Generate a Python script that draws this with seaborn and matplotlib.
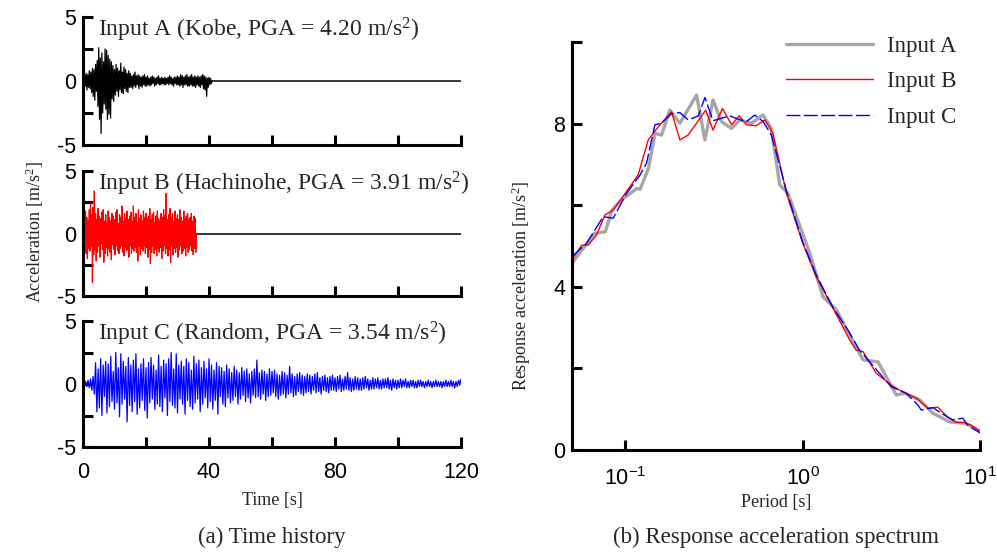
import numpy as np
import pandas as pd
import matplotlib
matplotlib.use("Agg")
import matplotlib.pyplot as plt
import seaborn as sns

# ---------------- data ----------------
dt_a = 0.25
acc_a = [0.1, -0.3, 0.5, -0.4, 0.6, -0.7, 0.5, -0.5, 0.8, -0.6, 0.7, -0.9,
         1.0, -1.2, 0.9, -1.5, 1.3, -0.8, 1.6, -2.0,
         2.6, -3.0, 1.8, -4.1, 2.2, -2.5, 1.5, -1.8,
         2.5, -2.2, 2.4, -3.0, 2.0, -2.6, 1.7, -2.9, 1.5, -1.4,
         1.2, -1.6, 0.9, -1.1, 1.3, -0.8, 1.0, -1.2, 0.8, -0.7,
         1.4, -0.9, 0.7, -1.0, 1.1, -0.6, 0.9, -0.8, 0.6, -0.9, 0.8, -0.5,
         0.6, -0.5, 0.4, -0.6, 0.5, -0.4, 0.7, -0.5, 0.4, -0.3, 0.5, -0.6, 0.4, -0.4, 0.3, -0.5, 0.4, -0.3, 0.5, -0.4,
         0.3, -0.4, 0.4, -0.3, 0.2, -0.4, 0.3, -0.3, 0.4, -0.2, 0.3, -0.4, 0.2, -0.3, 0.3, -0.2, 0.4, -0.3, 0.2, -0.3,
         0.3, -0.2, 0.2, -0.3, 0.3, -0.3, 0.2, -0.2, 0.3, -0.3, 0.4, -0.2, 0.3, -0.3, 0.2, -0.4, 0.3, -0.2, 0.3, -0.3,
         0.4, -0.3, 0.3, -0.4, 0.5, -0.3, 0.4, -0.5, 0.3, -0.3, 0.4, -0.3, 0.5, -0.4, 0.3, -0.4, 0.4, -0.3, 0.5, -0.4,
         0.3, -0.4, 0.4, -0.5, 0.3, -0.3, 0.4, -0.4, 0.3, -0.5, 0.4, -0.3, 0.5, -0.6, 0.4, -0.7, 0.3, -1.2, 0.2, -0.5,
         0.3, -0.3, 0.2, -0.2, 0.0]

dt_b = 0.2
acc_b = [0.8, -1.5, 1.2, -0.9, 1.8, -1.6, 1.3, -2.0, 1.0, -1.2,
         1.9, -1.4, 2.4, -1.0, 1.5, -3.9, 2.1, -1.7, 3.4, -1.3,
         1.6, -2.2, 1.1, -1.5, 2.0, -1.0, 1.4, -1.9, 1.2, -0.8,
         1.7, -1.3, 1.9, -2.3, 1.0, -1.6, 1.5, -1.1, 0.9, -1.8,
         1.8, -1.2, 1.3, -1.5, 1.0, -2.1, 1.6, -0.9, 1.4, -1.3,
         1.1, -1.7, 1.7, -1.0, 1.9, -1.4, 0.8, -1.6, 1.5, -1.2,
         1.3, -1.0, 2.2, -1.5, 1.0, -1.8, 1.6, -1.1, 1.2, -1.4,
         1.8, -1.3, 1.1, -1.9, 1.4, -1.0, 1.7, -1.6, 1.0, -1.2,
         2.2, -1.4, 1.3, -1.1, 1.6, -1.5, 0.9, -2.2, 1.9, -1.0,
         1.2, -1.7, 1.5, -1.2, 1.0, -1.4, 1.8, -1.0, 1.3, -1.6,
         1.6, -1.1, 1.2, -1.9, 1.4, -1.3, 2.0, -2.4, 1.1, -1.5,
         1.5, -1.0, 1.7, -1.6, 0.9, -1.3, 1.4, -1.8, 1.8, -1.2,
         1.2, -1.5, 1.0, -1.1, 1.6, -2.0, 1.3, -1.4, 1.9, -1.0,
         1.4, -1.6, 3.2, -1.2, 1.1, -1.8, 1.5, -1.3, 2.0, -2.3,
         1.3, -1.0, 1.6, -1.7, 1.0, -1.2, 1.8, -1.5, 1.2, -1.1,
         1.5, -1.9, 1.1, -1.3, 1.9, -1.0, 1.3, -1.6, 1.0, -1.4,
         1.8, -1.2, 1.2, -1.8, 1.4, -1.1, 1.6, -1.5, 1.1, -1.3,
         1.3, -1.0, 1.6, -1.4, 1.0, -1.7, 1.4, -1.2, 1.2, -1.5, 0.0]

dt_c = 0.4
acc_c = [0.1, -0.1, 0.2, -0.2, 0.3, -0.3, 0.4, -0.5, 0.6, -0.8,
         1.7, -2.2, 1.2, -1.9, 2.0, -2.5, 1.5, -1.0, 1.8, -2.3,
         1.6, -1.8, 2.2, -1.4, 1.0, -2.0, 2.5, -1.5, 1.3, -2.6,
         2.4, -1.6, 1.8, -1.2, 1.4, -3.0, 2.1, -1.7, 1.5, -2.2,
         1.9, -1.4, 2.4, -2.4, 1.2, -1.9, 1.6, -1.3, 2.0, -2.1,
         1.3, -2.7, 1.7, -1.5, 2.1, -1.2, 1.5, -2.0, 1.1, -1.6,
         2.3, -1.8, 1.4, -2.2, 1.9, -1.1, 1.6, -2.5, 2.0, -1.4,
         2.5, -1.7, 1.2, -1.9, 2.4, -2.3, 1.5, -1.2, 1.8, -1.6,
         1.4, -2.4, 2.0, -1.3, 1.7, -1.8, 1.1, -2.0, 2.2, -1.5,
         1.6, -1.2, 1.9, -2.2, 1.3, -1.6, 1.8, -1.1, 1.2, -1.9,
         2.0, -1.4, 1.5, -2.0, 1.1, -1.3, 1.7, -2.4, 1.4, -1.0,
         1.3, -1.6, 1.0, -1.8, 1.5, -1.1, 1.2, -1.5, 0.9, -1.3,
         1.4, -1.0, 1.1, -1.6, 0.9, -1.2, 1.3, -0.9, 1.0, -1.4,
         1.2, -1.1, 0.8, -1.5, 1.0, -0.9, 1.2, -1.1, 1.9, -1.0,
         0.9, -1.2, 1.1, -0.8, 1.0, -1.3, 0.8, -1.0, 1.2, -0.9,
         1.0, -0.7, 1.1, -1.0, 0.8, -1.2, 0.7, -0.9, 1.0, -0.8,
         0.9, -1.1, 0.7, -0.8, 1.4, -0.7, 0.8, -1.0, 0.6, -0.9,
         0.8, -0.6, 0.9, -0.8, 0.7, -0.9, 0.6, -0.7, 0.8, -0.6,
         0.7, -0.8, 0.6, -0.5, 0.8, -0.7, 0.9, -0.6, 0.5, -0.8,
         0.6, -0.5, 0.7, -0.6, 0.5, -0.7, 0.6, -0.5, 0.7, -0.5,
         0.5, -0.6, 0.6, -0.4, 0.7, -0.6, 0.4, -0.5, 0.6, -0.4,
         0.9, -0.5, 0.5, -0.6, 0.4, -0.5, 0.6, -0.4, 0.5, -0.5,
         0.4, -0.5, 0.5, -0.4, 0.6, -0.3, 0.4, -0.5, 0.3, -0.4,
         0.5, -0.4, 0.4, -0.3, 0.5, -0.4, 0.3, -0.4, 0.4, -0.3,
         0.4, -0.3, 0.5, -0.4, 0.3, -0.5, 0.4, -0.3, 0.3, -0.4,
         0.3, -0.3, 0.4, -0.3, 0.3, -0.2, 0.4, -0.3, 0.2, -0.3,
         0.3, -0.2, 0.3, -0.3, 0.2, -0.3, 0.3, -0.2, 0.3, -0.2,
         0.2, -0.3, 0.2, -0.2, 0.3, -0.2, 0.2, -0.3, 0.2, -0.2,
         0.3, -0.2, 0.2, -0.2, 0.2, -0.3, 0.2, -0.2, 0.3, -0.2,
         0.2, -0.2, 0.3, -0.2, 0.2, -0.3, 0.2, -0.2, 0.3, -0.1,
         0.4]

time_labels = ["Input A (Kobe, PGA = 4.20 m/s$^{2}$)",
               "Input B (Hachinohe, PGA = 3.91 m/s$^{2}$)",
               "Input C (Random, PGA = 3.54 m/s$^{2}$)"]

period_a = [0.050, 0.067, 0.077, 0.084, 0.095, 0.116, 0.121, 0.135, 0.147, 0.160, 0.178, 0.203,
            0.252, 0.281, 0.312, 0.348, 0.397, 0.442, 0.514, 0.598, 0.666, 0.742, 0.826, 1.00,
            1.095, 1.30, 1.55, 1.84, 2.19, 2.66, 3.37, 3.75, 4.56, 5.43, 6.74, 8.35, 10.0]
sa_a = [4.58, 5.31, 5.35, 5.88, 6.13, 6.41, 6.39, 6.90, 7.76, 7.72, 8.33, 8.01,
        8.70, 7.60, 8.58, 8.05, 7.88, 8.09, 8.01, 8.21, 7.88, 6.50, 6.29, 5.30,
        4.83, 3.76, 3.43, 2.82, 2.21, 2.16, 1.35, 1.39, 1.23, 0.90, 0.69, 0.65, 0.45]

period_b = [0.050, 0.0567, 0.0617, 0.0687, 0.0767, 0.0853, 0.108, 0.118, 0.1345, 0.153, 0.182,
            0.203, 0.226, 0.284, 0.312, 0.353, 0.397, 0.438, 0.482, 0.548, 0.611, 0.680, 0.81,
            1.00, 1.19, 1.48, 1.84, 2.00, 2.19, 2.60, 3.16, 3.52, 4.38, 5.08, 5.78, 6.58, 7.33,
            8.17, 8.92, 10.0]
sa_b = [4.66, 5.02, 5.02, 5.27, 5.76, 5.88, 6.50, 6.74, 7.60, 7.92, 8.29,
        7.60, 7.72, 8.33, 7.84, 8.37, 7.97, 8.19, 7.97, 7.95, 8.09, 7.76, 6.29,
        5.07, 4.25, 3.48, 2.70, 2.45, 2.41, 1.88, 1.59, 1.47, 1.27, 1.02, 1.05, 0.80, 0.68,
        0.67, 0.61, 0.47]

period_c = [0.050, 0.0605, 0.075, 0.0853, 0.1016, 0.121, 0.1317, 0.1467, 0.160, 0.182, 0.203,
            0.226, 0.258, 0.281, 0.312, 0.348, 0.388, 0.432, 0.482, 0.537, 0.598, 0.666, 0.81,
            1.00, 1.19, 1.48, 1.84, 2.09, 2.29, 2.71, 3.16, 3.84, 4.47, 4.66, 5.43, 6.05, 7.01,
            7.98, 8.51, 10.0]
sa_c = [4.74, 5.07, 5.72, 5.68, 6.29, 6.74, 7.03, 7.97, 8.01, 8.24, 8.27,
        8.09, 8.19, 8.64, 8.07, 8.13, 8.19, 8.11, 8.05, 8.21, 8.05, 7.72, 6.35,
        5.10, 4.30, 3.50, 2.87, 2.45, 2.25, 1.88, 1.55, 1.39, 1.10, 0.98, 1.04, 0.90, 0.74,
        0.78, 0.61, 0.42]

spectrum_labels = ["Input A", "Input B", "Input C"]

# ---------------- style ----------------
sns.set_style("ticks")
plt.rcParams["font.family"] = ["Liberation Sans", "DejaVu Sans"]
plt.rcParams["axes.unicode_minus"] = False
plt.rcParams["mathtext.default"] = "regular"
SERIF = ["Liberation Serif", "DejaVu Serif"]

fig = plt.figure(figsize=(9.97, 5.52), dpi=100)
W, H = 997.0, 552.0


def fax(x0, y0, x1, y1):
    return fig.add_axes([x0 / W, 1 - y1 / H, (x1 - x0) / W, (y1 - y0) / H])


def style_axes(ax):
    for s in ["top", "right"]:
        ax.spines[s].set_visible(False)
    for s in ["left", "bottom"]:
        ax.spines[s].set_linewidth(2.2)
        ax.spines[s].set_color("black")
    ax.tick_params(which="both", direction="in", length=7, width=2.2,
                   labelsize=15.5, colors="black", pad=5)
    ax.set_facecolor("white")


# ---------------- time histories ----------------
rects = [(83, 17, 461, 145), (83, 171, 461, 296), (83, 321, 461, 447)]
series = [(acc_a, dt_a, "black"), (acc_b, dt_b, "red"), (acc_c, dt_c, "blue")]
for i, ((vals, dt, col), r, lab) in enumerate(zip(series, rects, time_labels)):
    ax = fax(*r)
    t = np.arange(len(vals)) * dt
    df = pd.DataFrame({"t": t, "acc": vals})
    sns.lineplot(data=df, x="t", y="acc", ax=ax, color=col, lw=0.9,
                 estimator=None, sort=False, zorder=3)
    ax.set_xlim(0, 120)
    ax.set_ylim(-5, 5)
    if t[-1] < 120:
        ax.plot([t[-1], 120], [0, 0], color="black", lw=1.1, zorder=2)
    ax.set_yticks([-5, 0, 5])
    ax.set_yticks([-2.5, 2.5], minor=True)
    ax.set_xticks([0, 40, 80, 120])
    ax.set_xticks([20, 60, 100], minor=True)
    ax.set_xlabel("")
    ax.set_ylabel("")
    style_axes(ax)
    ax.tick_params(axis="x", pad=11)
    if i < 2:
        ax.set_xticklabels([])
    ax.text(0.04, 1.01, lab, transform=ax.transAxes, ha="left", va="top",
            family=SERIF, fontsize=17)
    for sp in ax.spines.values():
        sp.set_zorder(5)
    ax.patch.set_alpha(0)

fig.text(35 / W, 1 - 232 / H, "Acceleration [m/s$^{2}$]", rotation=90,
         ha="center", va="center", family=SERIF, fontsize=13)
fig.text(272 / W, 1 - 500 / H, "Time [s]", ha="center", va="center",
         family=SERIF, fontsize=13)
fig.text(272 / W, 1 - 537 / H, "(a) Time history", ha="center", va="center",
         family=SERIF, fontsize=16.5)

# ---------------- response spectrum ----------------
ax2 = fax(572, 42, 980, 450)
spec = [(period_a, sa_a, "#a6a6a6", 2.4, "-"),
        (period_b, sa_b, "#ff0000", 1.0, "-"),
        (period_c, sa_c, "#0000ff", 1.0, (0, (10, 2.5)))]
for (p, s, col, lw, ls), lab in zip(spec, spectrum_labels):
    df = pd.DataFrame({"T": p, "Sa": s})
    sns.lineplot(data=df, x="T", y="Sa", ax=ax2, color=col, lw=lw,
                 linestyle=ls, estimator=None, sort=False, label=lab)
ax2.set_xscale("log")
ax2.set_xlim(0.05, 10)
ax2.set_ylim(0, 10)
ax2.set_yticks([0, 4, 8])
ax2.set_yticks([2, 6, 10], minor=True)
ax2.set_xticks([0.1, 1, 10])
ax2.xaxis.set_minor_locator(matplotlib.ticker.NullLocator())
ax2.set_xlabel("")
ax2.set_ylabel("")
style_axes(ax2)
ax2.tick_params(axis="x", pad=12)
for sp in ax2.spines.values():
    sp.set_zorder(5)
h, l = ax2.get_legend_handles_labels()
ax2.legend(h, l, loc="upper left", bbox_to_anchor=(786 / W, 1 - 36 / H),
           bbox_transform=fig.transFigure, frameon=False,
           prop={"family": SERIF, "size": 16.5}, handlelength=3.8,
           handletextpad=0.6, labelspacing=0.62, borderpad=0, borderaxespad=0)

fig.text(521 / W, 1 - 286 / H, "Response acceleration [m/s$^{2}$]", rotation=90,
         ha="center", va="center", family=SERIF, fontsize=13)
fig.text(776 / W, 1 - 502 / H, "Period [s]", ha="center", va="center",
         family=SERIF, fontsize=13)
fig.text(776 / W, 1 - 537 / H, "(b) Response acceleration spectrum", ha="center",
         va="center", family=SERIF, fontsize=16.5)

fig.savefig("out.png", dpi=100, facecolor="white")
